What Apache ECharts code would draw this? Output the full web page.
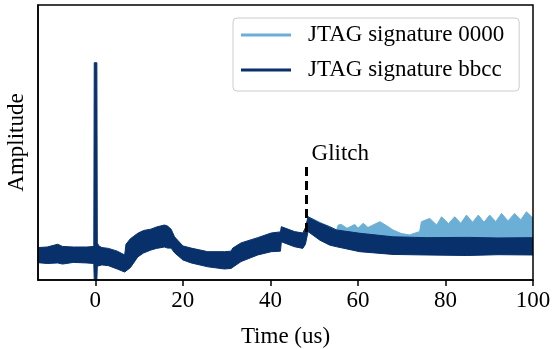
<!DOCTYPE html>
<html>
<head>
<meta charset="utf-8">
<script src="https://cdn.jsdelivr.net/npm/echarts@6/dist/echarts.min.js"></script>
<style>
  html, body { margin: 0; padding: 0; background: #fff; }
  #chart { width: 553px; height: 349px; }
</style>
</head>
<body>
<div id="chart"></div>
<script>
// time axis (us) and the noisy band of each trace, read as low / high envelope
var xTicks = [0, 20, 40, 60, 80, 100];

// JTAG signature bbcc (dark)
var darkTime = [-13.1, -11, -8.6, -7.5, -5, -2, -0.35, -0.25, 0.35, 0.45, 0.8, 1.5, 3, 5, 6.7,
  7.0, 8, 9.7, 11, 12.7, 14, 15.8, 16.5, 17.3, 18.1, 20, 21.9, 25.7, 29.5, 31.0, 31.4, 33.3,
  37.1, 40.2, 42.3, 42.5, 45.5, 47.4, 48.0, 48.6, 49, 51.3, 53.5, 55.1, 60.4, 68, 75.6, 85, 92, 100];
var darkLow = [6.3, 6.0, 6.2, 5.8, 6.4, 6.2, 6.0, 0, 0, 5.0, 5.6, 5.5, 5.2, 4.0, 2.9,
  3.5, 4.5, 8.4, 9.8, 10.9, 11.5, 12.0, 11.6, 11.6, 9.9, 7.3, 6.2, 4.8, 4.0, 4.2, 4.8, 6.7,
  9.1, 10.3, 10.5, 13.9, 12.1, 11.5, 13.0, 17.6, 17.0, 14.5, 12.7, 12.1, 10.3, 9.3, 9.1, 8.9, 9.2, 9.1];
var darkHigh = [11.8, 12.0, 13.0, 12.2, 12.0, 12.0, 12.2, 79, 79, 13.5, 12.4, 11.8, 11.5, 10.5, 9.1,
  13.0, 15.0, 17.0, 18.0, 18.5, 19.3, 20.0, 19.6, 18.5, 15.7, 12.4, 11.6, 10.3, 10.3, 10.5, 11.6, 13.5,
  15.4, 17.1, 17.5, 19.4, 17.6, 17.1, 19.0, 23.0, 23.0, 20.7, 19.4, 18.2, 17.0, 15.7, 15.4, 15.5, 15.3, 15.4];

// JTAG signature 0000 (light) - same as bbcc until the glitch, then drifts up
var lightTime = [48.6, 55.1, 55.5, 56.2, 57.5, 59.3, 60, 61.2, 62.3, 65, 66.5, 68, 69.9, 71.8, 74.1, 74.5,
  76.4, 78, 79.1, 80.7, 82.1, 83.5, 84.8, 86.2, 87.5, 88.8, 90.1, 91.5, 92.8, 94.3, 95.8, 97.2, 98.5, 100];
var lightHigh = [23.0, 18.2, 20.0, 20.2, 18.8, 20.2, 18.8, 20.6, 19.1, 21.2, 19.8, 18.2, 16.9, 16.4, 17.6, 21.2,
  22.4, 20.0, 23.0, 20.5, 23.0, 20.6, 23.6, 21.0, 23.6, 21.0, 23.6, 21.2, 24.2, 21.5, 24.2, 21.8, 24.8, 22.5];

var glitchTime = 48.1;
var glitchSpan = [17.5, 42.5];

var serif = "'Liberation Serif', 'DejaVu Serif', serif";
var lightColor = '#6baed6';
var darkColor = '#08306b';

function pairs(xs, ys) {
  return xs.map(function (x, i) { return [x, ys[i]]; });
}

// each band: the upper envelope filled down to the axis, then the lower
// envelope of the top trace is filled white to cut the band out
function filled(name, xs, ys, fill, edge) {
  return {
    name: name, type: 'line', silent: true, showSymbol: false,
    itemStyle: { color: edge },
    lineStyle: { color: edge, width: 1 },
    areaStyle: { color: fill, opacity: 1, origin: 'start' },
    data: pairs(xs, ys)
  };
}

var series = [
  filled('JTAG signature 0000', lightTime, lightHigh, lightColor, lightColor),
  filled('JTAG signature bbcc', darkTime, darkHigh, darkColor, darkColor),
  filled('bbcc low', darkTime, darkLow, '#ffffff', darkColor)
];

// glitch marker
series.push({
  name: 'glitch', type: 'line', silent: true, data: [], z: 5,
  markLine: {
    silent: true, symbol: ['none', 'none'],
    label: { show: false },
    lineStyle: { color: '#000', width: 3, type: [9, 5] },
    data: [[{ coord: [glitchTime, glitchSpan[0]] }, { coord: [glitchTime, glitchSpan[1]] }]]
  },
  markPoint: {
    silent: true, symbol: 'circle', symbolSize: 0,
    itemStyle: { color: 'transparent' },
    label: {
      show: true, position: 'right', distance: 0, formatter: 'Glitch',
      color: '#000', fontFamily: serif, fontSize: 23
    },
    data: [{ coord: [49.4, 45.8] }]
  }
});

var option = {
  animation: false,
  backgroundColor: '#fff',
  grid: {
    left: 38, right: 20, top: 5, bottom: 69,
    show: true, borderColor: '#000', borderWidth: 1.5, z: 10,
    outerBoundsMode: 'none'
  },
  legend: {
    orient: 'vertical',
    left: 233, top: 18,
    padding: [5, 15, 9, 8],
    itemGap: 11,
    itemWidth: 50, itemHeight: 3,
    icon: 'rect',
    backgroundColor: 'rgba(255,255,255,0.8)',
    borderColor: '#cccccc', borderWidth: 1, borderRadius: 4,
    textStyle: {
      fontFamily: serif, fontSize: 23, color: '#000',
      lineHeight: 24, padding: [0, 0, 0, 12]
    },
    data: ['JTAG signature 0000', 'JTAG signature bbcc']
  },
  xAxis: {
    type: 'value', z: 10,
    min: -13.1, max: 100,
    name: 'Time (us)', nameLocation: 'middle', nameGap: 45,
    nameTextStyle: { fontFamily: serif, fontSize: 23, color: '#000' },
    axisLine: { show: true, onZero: false, lineStyle: { color: '#000', width: 1.5 } },
    axisTick: { show: true, length: 6, customValues: xTicks, lineStyle: { color: '#000', width: 1.5 } },
    axisLabel: { customValues: xTicks, margin: 9, fontFamily: serif, fontSize: 23, color: '#000' },
    splitLine: { show: false }
  },
  yAxis: {
    type: 'value', z: 10,
    min: 0, max: 100,
    name: 'Amplitude', nameLocation: 'middle', nameGap: 10, nameRotate: 90,
    nameTextStyle: { fontFamily: serif, fontSize: 23, color: '#000' },
    axisLine: { show: true, onZero: false, lineStyle: { color: '#000', width: 1.5 } },
    axisTick: { show: false },
    axisLabel: { show: false },
    splitLine: { show: false }
  },
  series: series
};

var myChart = echarts.init(document.getElementById('chart'));
myChart.setOption(option);
</script>
</body>
</html>
